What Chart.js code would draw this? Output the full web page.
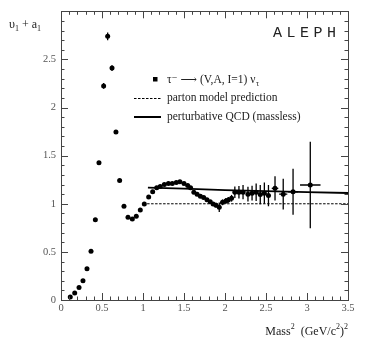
<!DOCTYPE html>
<html>
<head>
<meta charset="utf-8">
<script src="https://cdn.jsdelivr.net/npm/chart.js@4"></script>
<style>
  html, body { margin: 0; padding: 0; background: #fff; }
  #wrap { width: 373px; height: 343px; position: relative; }
</style>
</head>
<body>
<div id="wrap"><canvas id="chart"></canvas></div>
<script>
// ALEPH tau spectral function v1 + a1 vs mass squared

const massX = [0.113, 0.167, 0.22, 0.268, 0.317, 0.366, 0.419, 0.463, 0.52, 0.569,
    0.622, 0.67, 0.715, 0.768, 0.817, 0.87, 0.918, 0.967, 1.016, 1.069,
    1.118, 1.167, 1.21, 1.26, 1.31, 1.357, 1.406, 1.45, 1.5, 1.545,
    1.58, 1.62, 1.66, 1.70, 1.74, 1.78, 1.82, 1.855, 1.89, 1.93,
    1.97, 2.01, 2.04, 2.08, 2.12, 2.17, 2.22, 2.28, 2.33, 2.38,
    2.43, 2.48, 2.53, 2.61, 2.71, 2.83, 3.04];
const spectralY = [0.03, 0.074, 0.13, 0.20, 0.325, 0.507, 0.833, 1.425, 2.225, 2.74,
    2.41, 1.745, 1.242, 0.974, 0.86, 0.843, 0.871, 0.936, 0.998, 1.07,
    1.125, 1.167, 1.18, 1.2, 1.21, 1.21, 1.22, 1.23, 1.21, 1.19,
    1.167, 1.12, 1.10, 1.077, 1.064, 1.043, 1.02, 0.998, 0.985, 0.964,
    1.015, 1.03, 1.04, 1.057, 1.12, 1.12, 1.12, 1.10, 1.11, 1.12,
    1.095, 1.11, 1.085, 1.16, 1.10, 1.125, 1.195];
const errY = [0.01, 0.01, 0.01, 0.01, 0.01, 0.01, 0.015, 0.02, 0.03, 0.04,
    0.03, 0.02, 0.015, 0.01, 0.01, 0.01, 0.01, 0.01, 0.01, 0.01,
    0.01, 0.01, 0.01, 0.01, 0.01, 0.01, 0.01, 0.015, 0.015, 0.015,
    0.015, 0.015, 0.015, 0.015, 0.015, 0.015, 0.02, 0.02, 0.025, 0.05,
    0.03, 0.03, 0.03, 0.035, 0.06, 0.065, 0.074, 0.077, 0.077, 0.09,
    0.10, 0.11, 0.11, 0.125, 0.16, 0.24, 0.45];
const errX = [0, 0, 0, 0, 0, 0, 0, 0.01, 0.015, 0.015,
    0.015, 0.01, 0, 0, 0, 0, 0, 0, 0, 0,
    0, 0, 0, 0, 0, 0, 0, 0, 0, 0,
    0, 0, 0, 0, 0, 0, 0, 0, 0, 0,
    0, 0, 0, 0, 0.025, 0.025, 0.025, 0.025, 0.025, 0.025,
    0.025, 0.025, 0.025, 0.04, 0.05, 0.06, 0.125];

const partonX = [1.05, 3.5];
const partonY = [1, 1];
const qcdX = [1.06, 1.5, 2.0, 2.5, 3.0, 3.5];
const qcdY = [1.168, 1.158, 1.142, 1.132, 1.122, 1.112];

const xTicks = [0, 0.5, 1, 1.5, 2, 2.5, 3, 3.5];
const yTicks = [0, 0.5, 1, 1.5, 2, 2.5];

const SERIF = '"Liberation Serif", "DejaVu Serif", serif';
const AXIS = '#444';

function pts(xs, ys) { return xs.map((x, i) => ({ x: x, y: ys[i] })); }

// error bars, drawn under the points
const errorBars = {
    id: 'errorBars',
    beforeDatasetsDraw(chart) {
        const ctx = chart.ctx, xs = chart.scales.x, ys = chart.scales.y;
        ctx.save();
        ctx.strokeStyle = '#000';
        ctx.lineWidth = 1.3;
        massX.forEach((mx, i) => {
            const px = xs.getPixelForValue(mx), py = ys.getPixelForValue(spectralY[i]);
            ctx.beginPath();
            if (errY[i] > 0) {
                ctx.moveTo(px, ys.getPixelForValue(spectralY[i] - errY[i]));
                ctx.lineTo(px, ys.getPixelForValue(spectralY[i] + errY[i]));
            }
            if (errX[i] > 0) {
                ctx.moveTo(xs.getPixelForValue(mx - errX[i]), py);
                ctx.lineTo(xs.getPixelForValue(mx + errX[i]), py);
            }
            ctx.stroke();
        });
        ctx.restore();
    }
};

// frame, inward ticks on all four sides, legend and labels
const decor = {
    id: 'decor',
    afterDraw(chart) {
        const ctx = chart.ctx, a = chart.chartArea;
        const xs = chart.scales.x, ys = chart.scales.y;
        ctx.save();
        ctx.strokeStyle = AXIS;
        ctx.lineWidth = 1;
        ctx.strokeRect(Math.round(a.left) + 0.5, Math.round(a.top) + 0.5,
            Math.round(a.right - a.left), Math.round(a.bottom - a.top));
        ctx.beginPath();
        for (let i = 0; i <= 35; i++) {
            const len = i % 5 === 0 ? 7 : 3.5;
            const px = Math.round(xs.getPixelForValue(i / 10)) + 0.5;
            ctx.moveTo(px, a.bottom); ctx.lineTo(px, a.bottom - len);
            ctx.moveTo(px, a.top); ctx.lineTo(px, a.top + len);
        }
        for (let i = 0; i <= 30; i++) {
            const len = i % 5 === 0 ? 7 : 3.5;
            const py = Math.round(ys.getPixelForValue(i / 10)) + 0.5;
            ctx.moveTo(a.left, py); ctx.lineTo(a.left + len, py);
            ctx.moveTo(a.right, py); ctx.lineTo(a.right - len, py);
        }
        ctx.stroke();

        // ALEPH tag
        ctx.fillStyle = '#222';
        ctx.font = '15px "Liberation Mono", "DejaVu Sans Mono", monospace';
        ctx.letterSpacing = '4.5px';
        ctx.textAlign = 'right';
        ctx.textBaseline = 'middle';
        ctx.fillText('ALEPH', 340.5, 33);
        ctx.letterSpacing = '0px';

        // legend
        ctx.textAlign = 'left';
        ctx.fillStyle = '#000';
        ctx.fillRect(153, 77, 4.5, 4.5);
        ctx.strokeStyle = '#000';
        ctx.lineWidth = 1;
        ctx.setLineDash([2.5, 1.5]);
        ctx.beginPath(); ctx.moveTo(134, 98.5); ctx.lineTo(161, 98.5); ctx.stroke();
        ctx.setLineDash([]);
        ctx.lineWidth = 2;
        ctx.beginPath(); ctx.moveTo(134, 117); ctx.lineTo(161, 117); ctx.stroke();

        ctx.fillStyle = '#222';
        ctx.font = '11.5px ' + SERIF;
        let tx = 167;
        const t1 = '\u03c4\u207b \u27f6 (V,A, I=1) \u03bd';
        ctx.fillText(t1, tx, 80);
        tx += ctx.measureText(t1).width;
        ctx.font = '8px ' + SERIF;
        ctx.fillText('\u03c4', tx + 0.5, 84);
        ctx.font = '11.5px ' + SERIF;
        ctx.fillText('parton model prediction', 167, 98);
        ctx.fillText('perturbative QCD (massless)', 167, 117);

        // y axis title: v1 + a1
        let yx = 9;
        const parts = [['\u03c5', 0], ['1', 1], [' + a', 0], ['1', 1]];
        parts.forEach(([s, sub]) => {
            ctx.font = (sub ? '8px ' : '12px ') + SERIF;
            ctx.fillText(s, yx, sub ? 29 : 25);
            yx += ctx.measureText(s).width;
        });

        // x axis title: Mass^2 (GeV/c^2)^2, right aligned
        const xparts = [['Mass', 0], ['2', 1], ['  (GeV/c', 0], ['2', 1], [')', 0], ['2', 1]];
        let w = 0;
        xparts.forEach(([s, sup]) => {
            ctx.font = (sup ? '8px ' : '12px ') + SERIF;
            w += ctx.measureText(s).width;
        });
        let xx = 348 - w;
        xparts.forEach(([s, sup]) => {
            ctx.font = (sup ? '8px ' : '12px ') + SERIF;
            ctx.fillText(s, xx, sup ? 327 : 332);
            xx += ctx.measureText(s).width;
        });
        ctx.restore();
    }
};

new Chart(document.getElementById('chart'), {
    type: 'scatter',
    data: {
        datasets: [
            {
                label: 'data',
                data: pts(massX, spectralY),
                pointRadius: 2.5,
                pointHoverRadius: 2.5,
                backgroundColor: '#000',
                borderColor: '#000',
                borderWidth: 0,
                showLine: false
            },
            {
                label: 'parton model prediction',
                data: pts(partonX, partonY),
                showLine: true,
                pointRadius: 0,
                borderColor: '#000',
                borderWidth: 1,
                borderDash: [2.5, 1.5]
            },
            {
                label: 'perturbative QCD (massless)',
                data: pts(qcdX, qcdY),
                showLine: true,
                pointRadius: 0,
                borderColor: '#000',
                borderWidth: 1.8
            }
        ]
    },
    options: {
        responsive: true,
        maintainAspectRatio: false,
        animation: false,
        events: [],
        layout: { padding: { left: 0, top: 10, right: 25, bottom: 0 } },
        plugins: { legend: { display: false }, tooltip: { enabled: false } },
        scales: {
            x: {
                type: 'linear',
                min: 0, max: 3.5,
                afterFit: s => { s.height = 43; },
                afterBuildTicks: s => { s.ticks = xTicks.map(v => ({ value: v })); },
                grid: { display: false, drawTicks: false },
                border: { display: false },
                ticks: {
                    padding: 2,
                    color: '#555',
                    font: { family: SERIF, size: 10.5 },
                    maxRotation: 0,
                    callback: v => String(v)
                }
            },
            y: {
                type: 'linear',
                min: 0, max: 3,
                afterFit: s => { s.width = 61; },
                afterBuildTicks: s => { s.ticks = yTicks.map(v => ({ value: v })); },
                grid: { display: false, drawTicks: false },
                border: { display: false },
                ticks: {
                    padding: 5,
                    color: '#555',
                    font: { family: SERIF, size: 10.5 },
                    callback: v => String(v)
                }
            }
        }
    },
    plugins: [errorBars, decor]
});
</script>
</body>
</html>
